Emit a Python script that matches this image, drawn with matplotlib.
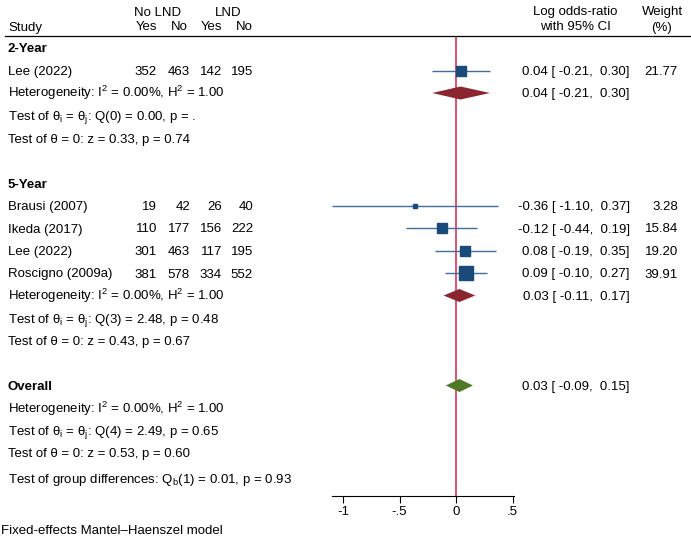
import numpy as np
import matplotlib
matplotlib.use("Agg")
import matplotlib.pyplot as plt

plt.rcParams['font.family'] = ['Liberation Sans', 'DejaVu Sans']
plt.rcParams['mathtext.fontset'] = 'custom'
plt.rcParams['mathtext.rm'] = 'Liberation Sans'
plt.rcParams['mathtext.it'] = 'Liberation Sans:italic'
plt.rcParams['mathtext.bf'] = 'Liberation Sans:bold'

# study-level data (rows in the table)
study_names = ["Lee (2022)", "Brausi (2007)", "Ikeda (2017)", "Lee (2022)", "Roscigno (2009a)"]
study_rows = [1, 7, 8, 9, 10]
noLND_yes = [352, 19, 110, 301, 381]
noLND_no = [463, 42, 177, 463, 578]
LND_yes = [142, 26, 156, 117, 334]
LND_no = [195, 40, 222, 195, 552]
log_or = [0.04, -0.36, -0.12, 0.08, 0.09]
ci_lo = [-0.21, -1.10, -0.44, -0.19, -0.10]
ci_hi = [0.30, 0.37, 0.19, 0.35, 0.27]
weights = [21.77, 3.28, 15.84, 19.20, 39.91]

# pooled estimates
pooled_rows = [2, 11, 15]
pooled_est = [0.04, 0.03, 0.03]
pooled_lo = [-0.21, -0.11, -0.09]
pooled_hi = [0.30, 0.17, 0.15]
pooled_colors = ['#8b2530', '#8b2530', '#4e7a26']

group_rows = [0, 6, 15]
group_names = ["2-Year", "5-Year", "Overall"]

stat_rows = [2, 3, 4, 11, 12, 13, 16, 17, 18]
stat_text = [
    r"Heterogeneity: I$^2$ = 0.00%, H$^2$ = 1.00",
    r"Test of θ$_\mathrm{i}$ = θ$_\mathrm{j}$: Q(0) = 0.00, p = .",
    "Test of θ = 0: z = 0.33, p = 0.74",
    r"Heterogeneity: I$^2$ = 0.00%, H$^2$ = 1.00",
    r"Test of θ$_\mathrm{i}$ = θ$_\mathrm{j}$: Q(3) = 2.48, p = 0.48",
    "Test of θ = 0: z = 0.43, p = 0.67",
    r"Heterogeneity: I$^2$ = 0.00%, H$^2$ = 1.00",
    r"Test of θ$_\mathrm{i}$ = θ$_\mathrm{j}$: Q(4) = 2.49, p = 0.65",
    "Test of θ = 0: z = 0.53, p = 0.60",
]
group_diff = r"Test of group differences: Q$_\mathrm{b}$(1) = 0.01, p = 0.93"

xticks = [-1, -0.5, 0, 0.5]
xtick_labels = ["-1", "-.5", "0", ".5"]

W, H = 691, 538
fig = plt.figure(figsize=(W / 100, H / 100), dpi=100)
ax = fig.add_axes([0, 0, 1, 1])

# pixel layout: 0 at x=456, 113 px per unit; row r at y = 48 + 22.5 r
x0, xs = 456, 113.0
y0, ys = 48, 22.5
ax.set_xlim((0 - x0) / xs, (W - x0) / xs)
ax.set_ylim((H - y0) / ys, (0 - y0) / ys)

fs = 9.5
base_off = 4.5 / ys  # baseline sits a bit below the row centre
tr = ax.get_yaxis_transform()  # x in axes fraction, y in rows


def px(x):
    return x / W


def row_of(ypix):
    return (ypix - y0) / ys


def put(x, y, s, ha='left', **kw):
    ax.text(px(x), y + base_off, s, ha=ha, va='baseline', fontsize=fs, transform=tr, **kw)


# headers
put(158, row_of(11), "No LND", ha='center')
put(228, row_of(11), "LND", ha='center')
put(8, row_of(26), "Study")
for xr, lab in zip([157, 188, 222, 253], ["Yes", "No", "Yes", "No"]):
    put(xr, row_of(26), lab, ha='right')
put(575, row_of(11), "Log odds-ratio", ha='center')
put(575, row_of(26), "with 95% CI", ha='center')
put(662, row_of(11), "Weight", ha='center')
put(662, row_of(26), "(%)", ha='center')

top_rule = row_of(35.5)
ax.axhline(top_rule, xmin=px(5), xmax=px(690), color='black', lw=0.9)

# reference line at 0
bottom_row = row_of(496)
ax.vlines(0, top_rule, bottom_row, color='#d8345a', lw=1.2, zorder=1)

for r, g in zip(group_rows, group_names):
    put(8, r, g, fontweight='bold')

for r, s in zip(stat_rows, stat_text):
    put(8, r, s)
put(8, row_of(479), group_diff)

# studies
for i, r in enumerate(study_rows):
    put(8, r, study_names[i])
    for xr, v in zip([157, 190, 222, 253], [noLND_yes[i], noLND_no[i], LND_yes[i], LND_no[i]]):
        put(xr, r, str(v), ha='right')
    ax.hlines(r, ci_lo[i], ci_hi[i], color='#3f6f9f', lw=1.0, zorder=2)
    ax.plot(log_or[i], r, marker='s', color='#1a4a7a', ms=1.68 * np.sqrt(weights[i]),
            mec='#1a4a7a', zorder=3)
    put(630, r, f"{log_or[i]:.2f} [ {ci_lo[i]:.2f},  {ci_hi[i]:.2f}]", ha='right')
    put(678, r, f"{weights[i]:.2f}", ha='right')

# pooled diamonds
dh = 6.5 / ys
for r, e, lo, hi, c in zip(pooled_rows, pooled_est, pooled_lo, pooled_hi, pooled_colors):
    ax.fill([lo, e, hi, e], [r, r - dh, r, r + dh], color=c, lw=0, zorder=3)
    put(630, r, f"{e:.2f} [ {lo:.2f},  {hi:.2f}]", ha='right')

# bottom axis
for side in ['top', 'left', 'right']:
    ax.spines[side].set_visible(False)
ax.spines['bottom'].set_position(('data', bottom_row))
ax.spines['bottom'].set_bounds(-1.1, 0.51)
ax.spines['bottom'].set_linewidth(0.8)
ax.set_xticks(xticks)
ax.set_xticklabels(xtick_labels, fontsize=fs)
ax.tick_params(axis='x', direction='out', length=5, width=0.8, pad=2)
ax.set_yticks([])

put(1, row_of(530), "Fixed-effects Mantel\u2013Haenszel model")

fig.savefig("out.png", dpi=100)
